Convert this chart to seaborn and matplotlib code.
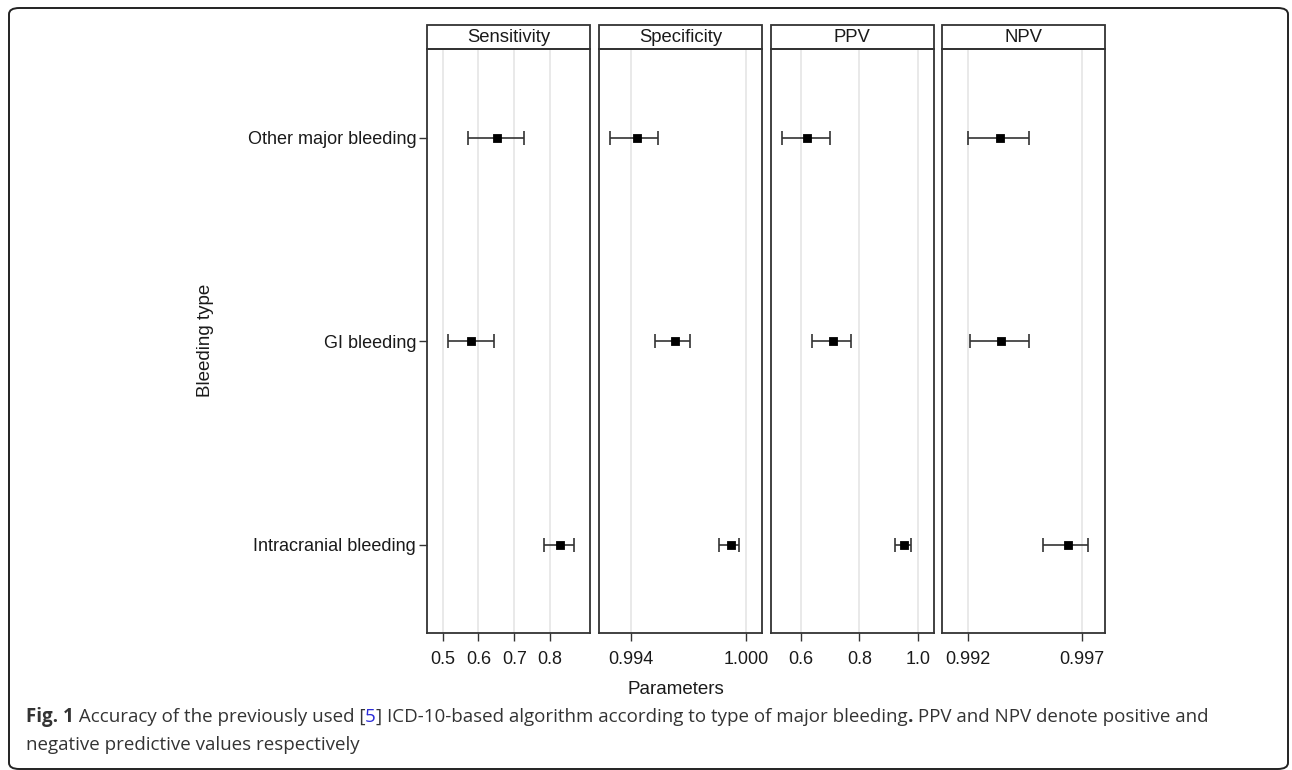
import numpy as np
import pandas as pd
import matplotlib
matplotlib.use("Agg")
import matplotlib.pyplot as plt
from matplotlib.patches import Rectangle, FancyBboxPatch
import seaborn as sns

sns.set_style("white")
plt.rcParams['font.family'] = ['Liberation Sans', 'DejaVu Sans']

# data
bleeding_types = ['Other major bleeding', 'GI bleeding', 'Intracranial bleeding']
measures = ['Sensitivity', 'Specificity', 'PPV', 'NPV']

sens_est = [0.652, 0.579, 0.827]
sens_lo = [0.572, 0.514, 0.782]
sens_hi = [0.727, 0.643, 0.867]

spec_est = [0.99430, 0.99630, 0.99920]
spec_lo = [0.99292, 0.99522, 0.99857]
spec_hi = [0.99541, 0.99709, 0.99960]

ppv_est = [0.620, 0.708, 0.952]
ppv_lo = [0.534, 0.637, 0.923]
ppv_hi = [0.700, 0.773, 0.977]

npv_est = [0.99340, 0.99346, 0.99639]
npv_lo = [0.99200, 0.99210, 0.99528]
npv_hi = [0.99468, 0.99468, 0.99726]

rows = []
for m, est, lo, hi in zip(measures,
                          [sens_est, spec_est, ppv_est, npv_est],
                          [sens_lo, spec_lo, ppv_lo, npv_lo],
                          [sens_hi, spec_hi, ppv_hi, npv_hi]):
    for t, e, l, h in zip(bleeding_types, est, lo, hi):
        rows.append({'measure': m, 'type': t, 'est': e, 'lo': l, 'hi': h})
df = pd.DataFrame(rows)

# axis settings per panel
xlims = {'Sensitivity': (0.457, 0.9126), 'Specificity': (0.99234, 1.00084),
         'PPV': (0.4959, 1.055), 'NPV': (0.99089, 0.99801)}
xticks = {'Sensitivity': [0.5, 0.6, 0.7, 0.8], 'Specificity': [0.994, 1.000],
          'PPV': [0.6, 0.8, 1.0], 'NPV': [0.992, 0.997]}
xticklabels = {'Sensitivity': ['0.5', '0.6', '0.7', '0.8'], 'Specificity': ['0.994', '1.000'],
               'PPV': ['0.6', '0.8', '1.0'], 'NPV': ['0.992', '0.997']}

W, H = 1292, 770
fig = plt.figure(figsize=(W / 100, H / 100), dpi=100)

panel_left = [427.3, 599.3, 770.7, 942.3]
panel_w = 163
top_px, bot_px = 49.3, 632.7
strip_h = 24.3 / (bot_px - top_px)
dark = '#333333'

for i, m in enumerate(measures):
    ax = fig.add_axes([panel_left[i] / W, 1 - bot_px / H, panel_w / W, (bot_px - top_px) / H])
    sub = df[df['measure'] == m]
    ypos = np.arange(len(bleeding_types))
    ax.errorbar(sub['est'], ypos, xerr=[sub['est'] - sub['lo'], sub['hi'] - sub['est']],
                fmt='none', ecolor=dark, elinewidth=1.2, capsize=5, capthick=1.2, zorder=2)
    sns.pointplot(data=sub, x='est', y='type', order=bleeding_types, orient='y',
                  color='black', marker='s', linestyle='none', markersize=4.3,
                  errorbar=None, ax=ax, zorder=3)
    ax.set_xlim(*xlims[m])
    ax.set_ylim(len(bleeding_types) - 1 + 0.432, -0.434)
    ax.set_xticks(xticks[m])
    ax.set_xticklabels(xticklabels[m])
    ax.xaxis.grid(True, color='#e3e3e3', lw=1.1)
    ax.yaxis.grid(False)
    ax.set_axisbelow(True)
    ax.set_xlabel('')
    ax.set_ylabel('')
    for s in ax.spines.values():
        s.set_color(dark)
        s.set_linewidth(1.3)
    ax.tick_params(axis='x', direction='out', length=6, width=1, color=dark,
                   labelsize=13, labelcolor='#1a1a1a', pad=7, bottom=True)
    if i == 0:
        ax.tick_params(axis='y', direction='out', length=6, width=1, color=dark,
                       labelsize=13, labelcolor='#1a1a1a', pad=2, left=True)
    else:
        ax.tick_params(axis='y', left=False, labelleft=False)
    # facet strip
    ax.add_patch(Rectangle((0, 1), 1, strip_h, transform=ax.transAxes, clip_on=False,
                           facecolor='white', edgecolor=dark, lw=1.3))
    ax.text(0.5, 1 + strip_h / 2, m, transform=ax.transAxes, ha='center', va='center',
            fontsize=13.3, color='#1a1a1a')

fig.text(205 / W, 1 - 340 / H, 'Bleeding type', rotation=90, ha='center', va='center',
         fontsize=13.5, color='#1a1a1a')
fig.text(676 / W, 1 - 690 / H, 'Parameters', ha='center', va='center',
         fontsize=13.5, color='#1a1a1a')

# caption
cap_font = ['Open Sans', 'DejaVu Sans']
cap_size = 13.5
segments = [("Fig. 1", 'bold', '#333333'),
            (" Accuracy of the previously used [", 'normal', '#333333'),
            ("5", 'normal', '#2b2bd9'),
            ("] ICD-10-based algorithm according to type of major bleeding", 'normal', '#333333'),
            (".", 'bold', '#333333'),
            (" PPV and NPV denote positive and", 'normal', '#333333')]
renderer = fig.canvas.get_renderer()
x = 26
y1 = 1 - 717 / H
for txt, wt, col in segments:
    t = fig.text(x / W, y1, txt, fontsize=cap_size, fontweight=wt, color=col,
                 family=cap_font, ha='left', va='center')
    bb = t.get_window_extent(renderer=renderer)
    x += bb.width
fig.text(26 / W, 1 - 745 / H, "negative predictive values respectively", fontsize=cap_size,
         color='#333333', family=cap_font, ha='left', va='center')

# rounded frame around the figure
fig.patches.append(FancyBboxPatch((9 / W, 1 - 769 / H), 1279 / W, 761 / H,
                                  boxstyle="round,pad=0,rounding_size=0.008",
                                  transform=fig.transFigure, facecolor='none',
                                  edgecolor='#222222', lw=1.4))

fig.savefig('out.png', dpi=100)
